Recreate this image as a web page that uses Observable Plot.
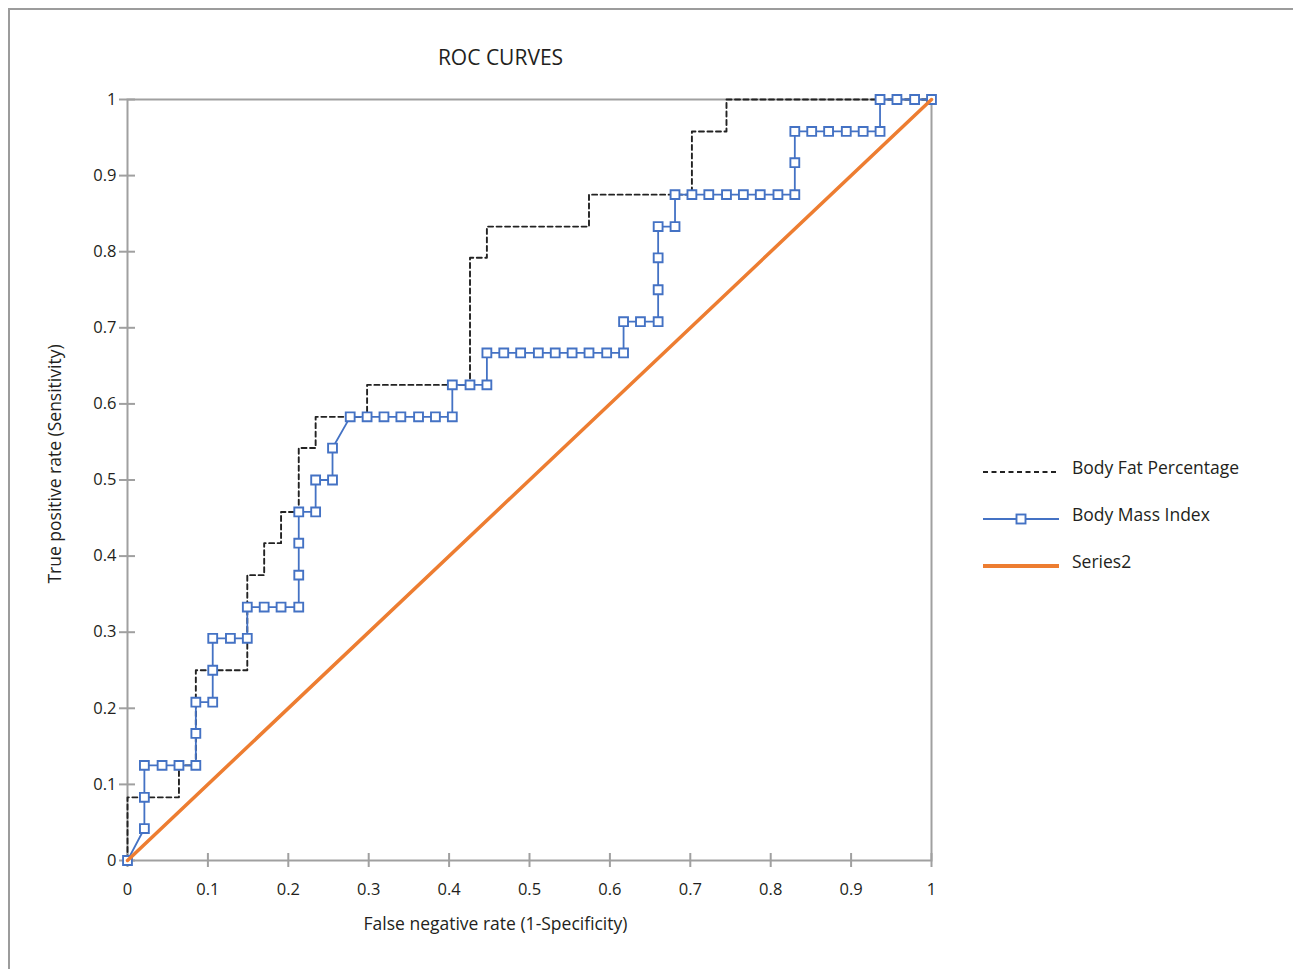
<!DOCTYPE html>
<html><head><meta charset="utf-8">
<script src="https://cdn.jsdelivr.net/npm/d3@7"></script>
<script src="https://cdn.jsdelivr.net/npm/@observablehq/plot@0.6"></script>
<style>
html,body{margin:0;padding:0;background:#fff;}
#wrap{position:relative;width:1293px;height:969px;overflow:hidden;}
#border{position:absolute;left:8px;top:8px;width:1300px;height:980px;border-top:2px solid #9c9c9c;border-left:2px solid #9c9c9c;}
#chart{position:absolute;left:0;top:0;}
</style></head><body>
<div id="wrap"><div id="border"></div><div id="chart"></div></div>
<script>
// ---- data ----
const seriesNames = ["Body Fat Percentage", "Body Mass Index", "Series2"];

const bodyFatFpr = [0, 0.064, 0.085, 0.149, 0.170, 0.191, 0.213, 0.234, 0.298, 0.426, 0.447, 0.574, 0.702, 0.745, 1];
const bodyFatTpr = [0, 0.083, 0.125, 0.250, 0.375, 0.417, 0.458, 0.542, 0.583, 0.625, 0.792, 0.833, 0.875, 0.958, 1];

const bmiFpr = [0, 0.021, 0.021, 0.021, 0.043, 0.064, 0.085, 0.085, 0.085, 0.106, 0.106, 0.106, 0.128, 0.149, 0.149,
  0.170, 0.191, 0.213, 0.213, 0.213, 0.213, 0.234, 0.234, 0.255, 0.255, 0.277, 0.298, 0.319, 0.340, 0.362, 0.383,
  0.404, 0.404, 0.426, 0.447, 0.447, 0.468, 0.489, 0.511, 0.532, 0.553, 0.574, 0.596, 0.617, 0.617, 0.638, 0.660,
  0.660, 0.660, 0.660, 0.681, 0.681, 0.702, 0.723, 0.745, 0.766, 0.787, 0.809, 0.830, 0.830, 0.830, 0.851, 0.872,
  0.894, 0.915, 0.936, 0.936, 0.957, 0.979, 1];
const bmiTpr = [0, 0.042, 0.083, 0.125, 0.125, 0.125, 0.125, 0.167, 0.208, 0.208, 0.250, 0.292, 0.292, 0.292, 0.333,
  0.333, 0.333, 0.333, 0.375, 0.417, 0.458, 0.458, 0.500, 0.500, 0.542, 0.583, 0.583, 0.583, 0.583, 0.583, 0.583,
  0.583, 0.625, 0.625, 0.625, 0.667, 0.667, 0.667, 0.667, 0.667, 0.667, 0.667, 0.667, 0.667, 0.708, 0.708, 0.708,
  0.750, 0.792, 0.833, 0.833, 0.875, 0.875, 0.875, 0.875, 0.875, 0.875, 0.875, 0.875, 0.917, 0.958, 0.958, 0.958,
  0.958, 0.958, 0.958, 1, 1, 1, 1];

const series2X = [0, 1];
const series2Y = [0, 1];

const xTicks = [0, 0.1, 0.2, 0.3, 0.4, 0.5, 0.6, 0.7, 0.8, 0.9, 1];
const xTickLabels = ["0", "0.1", "0.2", "0.3", "0.4", "0.5", "0.6", "0.7", "0.8", "0.9", "1"];
const yTicks = [0, 0.1, 0.2, 0.3, 0.4, 0.5, 0.6, 0.7, 0.8, 0.9, 1];
const yTickLabels = ["0", "0.1", "0.2", "0.3", "0.4", "0.5", "0.6", "0.7", "0.8", "0.9", "1"];

const title = "ROC CURVES";
const xLabel = "False negative rate (1-Specificity)";
const yLabel = "True positive rate (Sensitivity)";

// ---- tables ----
const bodyFat = bodyFatFpr.map((x, i) => ({x, y: bodyFatTpr[i]}));
const bmi = bmiFpr.map((x, i) => ({x, y: bmiTpr[i]}));
const series2 = series2X.map((x, i) => ({x, y: series2Y[i]}));

const FONT = "'Open Sans', 'Noto Sans', sans-serif";
const GRAY = "#a0a0a0";
const TEXT = "#231f20";
const BLUE = "#4472c4";
const ORANGE = "#ed7d31";
const DASH = "5,3.5";

const chart = Plot.plot({
  width: 1293,
  height: 969,
  marginLeft: 127,
  marginRight: 362,
  marginTop: 99,
  marginBottom: 109,
  style: {fontFamily: FONT, fontSize: "16px", background: "transparent", color: TEXT},
  x: {domain: [0, 1], label: null},
  y: {domain: [0, 1], label: null},
  marks: [
    Plot.frame({stroke: GRAY, strokeWidth: 2}),
    Plot.axisX({ticks: xTicks, tickSize: 14, dy: -7, tickFormat: () => "", stroke: GRAY, strokeWidth: 2, label: null}),
    Plot.axisY({ticks: yTicks, tickSize: 16, dx: 8, tickFormat: () => "", stroke: GRAY, strokeWidth: 2, label: null}),
    Plot.axisX({ticks: xTicks, tickSize: 0, tickPadding: 23, tickFormat: d => xTickLabels[xTicks.indexOf(d)], fill: TEXT, fontSize: 16.5, label: null}),
    Plot.axisY({ticks: yTicks, tickSize: 0, tickPadding: 11, tickFormat: d => yTickLabels[yTicks.indexOf(d)], fill: TEXT, fontSize: 16.5, label: null}),
    Plot.line(bodyFat, {x: "x", y: "y", curve: "step-before", stroke: "#222", strokeWidth: 1.9, strokeDasharray: DASH}),
    Plot.line(bmi, {x: "x", y: "y", stroke: BLUE, strokeWidth: 1.8}),
    Plot.dot(bmi, {x: "x", y: "y", symbol: "square", r: 5, fill: "white", stroke: BLUE, strokeWidth: 1.9}),
    Plot.line(series2, {x: "x", y: "y", stroke: ORANGE, strokeWidth: 3.5}),
    Plot.text([title], {frameAnchor: "top", lineAnchor: "middle", textAnchor: "middle", dx: -29, dy: -41, fontSize: 21, fill: TEXT}),
    Plot.text([xLabel], {frameAnchor: "bottom", lineAnchor: "middle", textAnchor: "middle", dx: -34, dy: 64, fontSize: 17.5, fill: TEXT}),
    Plot.text([yLabel], {frameAnchor: "left", lineAnchor: "middle", textAnchor: "middle", rotate: -90, dx: -72, dy: -16, fontSize: 17.5, fill: TEXT})
  ]
});
document.getElementById("chart").appendChild(chart);

// ---- legend (right side) ----
const svg = d3.select(chart);
const lg = svg.append("g").attr("font-family", FONT).attr("font-size", 17.5).attr("fill", TEXT).attr("text-anchor", "start");
const rows = [
  {name: seriesNames[0], y: 472},
  {name: seriesNames[1], y: 519},
  {name: seriesNames[2], y: 566}
];
rows.forEach((r, i) => {
  const line = lg.append("line").attr("x1", 983).attr("x2", 1059).attr("y1", r.y).attr("y2", r.y);
  if (i === 0) line.attr("stroke", "#222").attr("stroke-width", 1.9).attr("stroke-dasharray", DASH);
  if (i === 1) {
    line.attr("stroke", BLUE).attr("stroke-width", 1.8);
    lg.append("rect").attr("x", 1016.5).attr("y", r.y - 4.5).attr("width", 9).attr("height", 9)
      .attr("fill", "white").attr("stroke", BLUE).attr("stroke-width", 1.9);
  }
  if (i === 2) line.attr("stroke", ORANGE).attr("stroke-width", 4);
  lg.append("text").attr("x", 1072).attr("y", r.y - 4).attr("dy", "0.35em").attr("text-anchor", "start").text(r.name);
});
</script>
</body></html>
